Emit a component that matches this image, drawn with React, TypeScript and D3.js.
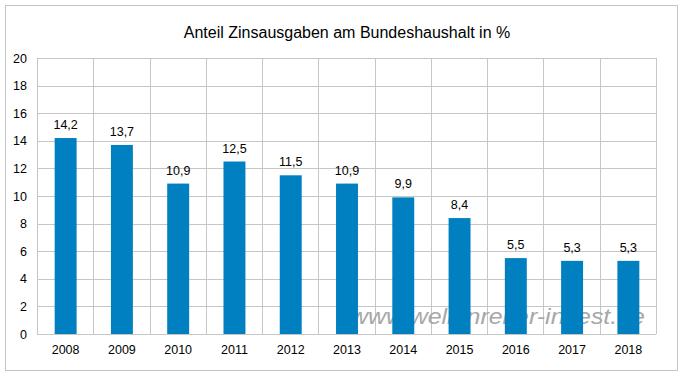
import React from "react";
import * as d3 from "d3";

const years = ["2008", "2009", "2010", "2011", "2012", "2013", "2014", "2015", "2016", "2017", "2018"];
const values = [14.2, 13.7, 10.9, 12.5, 11.5, 10.9, 9.9, 8.4, 5.5, 5.3, 5.3];
const yTicks = [0, 2, 4, 6, 8, 10, 12, 14, 16, 18, 20];
const title = "Anteil Zinsausgaben am Bundeshaushalt in %";
const watermark = "www.wellenreiter-invest.de";

export default function App() {
  const W = 683, H = 379;
  const left = 37, right = 656, top = 58, bottom = 334;
  const x = d3.scaleBand<string>().domain(years).range([left, right]).paddingInner(0).paddingOuter(0);
  const y = d3.scaleLinear().domain([0, 20]).range([bottom, top]);
  const bw = x.bandwidth() * 0.39;
  const font = "'Liberation Sans', Arial, sans-serif";
  const grid = "#c6c6c6";
  const bounds = years.map((yr) => x(yr)!).concat([right]);

  return (
    <svg width={W} height={H} style={{ position: "absolute", left: 0, top: 0 }} fontFamily={font}>
      <rect x={0} y={0} width={W} height={H} fill="#fff" />
      <rect x={5.5} y={5.5} width={672} height={365} fill="#fff" stroke="#c4c4c4" strokeWidth={1} />
      <text x={347} y={38} textAnchor="middle" fontSize={16} fill="#000">{title}</text>
      {yTicks.map((t) => (
        <g key={t}>
          <line x1={left} x2={right} y1={Math.round(y(t)) + 0.5} y2={Math.round(y(t)) + 0.5} stroke={grid} />
          <text x={27} y={y(t) + 4.5} textAnchor="end" fontSize={12.5} fill="#000">{t}</text>
        </g>
      ))}
      {bounds.map((b, i) => (
        <line key={i} x1={Math.round(b) + 0.5} x2={Math.round(b) + 0.5} y1={top} y2={bottom} stroke={grid} />
      ))}
      <text x={350} y={324} fontSize={22} fontStyle="italic" fill="#a8a8a8" textLength={295} lengthAdjust="spacingAndGlyphs">{watermark}</text>
      {years.map((yr, i) => {
        const cx = x(yr)! + x.bandwidth() / 2 + 0.5;
        return (
          <g key={yr}>
            <rect x={cx - bw / 2} y={y(values[i])} width={bw} height={bottom - y(values[i])} fill="#0080c0" />
            <text x={cx} y={y(values[i]) - 9} textAnchor="middle" fontSize={12.5} fill="#000">
              {values[i].toFixed(1).replace(".", ",")}
            </text>
            <text x={cx} y={354} textAnchor="middle" fontSize={12.5} fill="#000">{yr}</text>
          </g>
        );
      })}
    </svg>
  );
}
